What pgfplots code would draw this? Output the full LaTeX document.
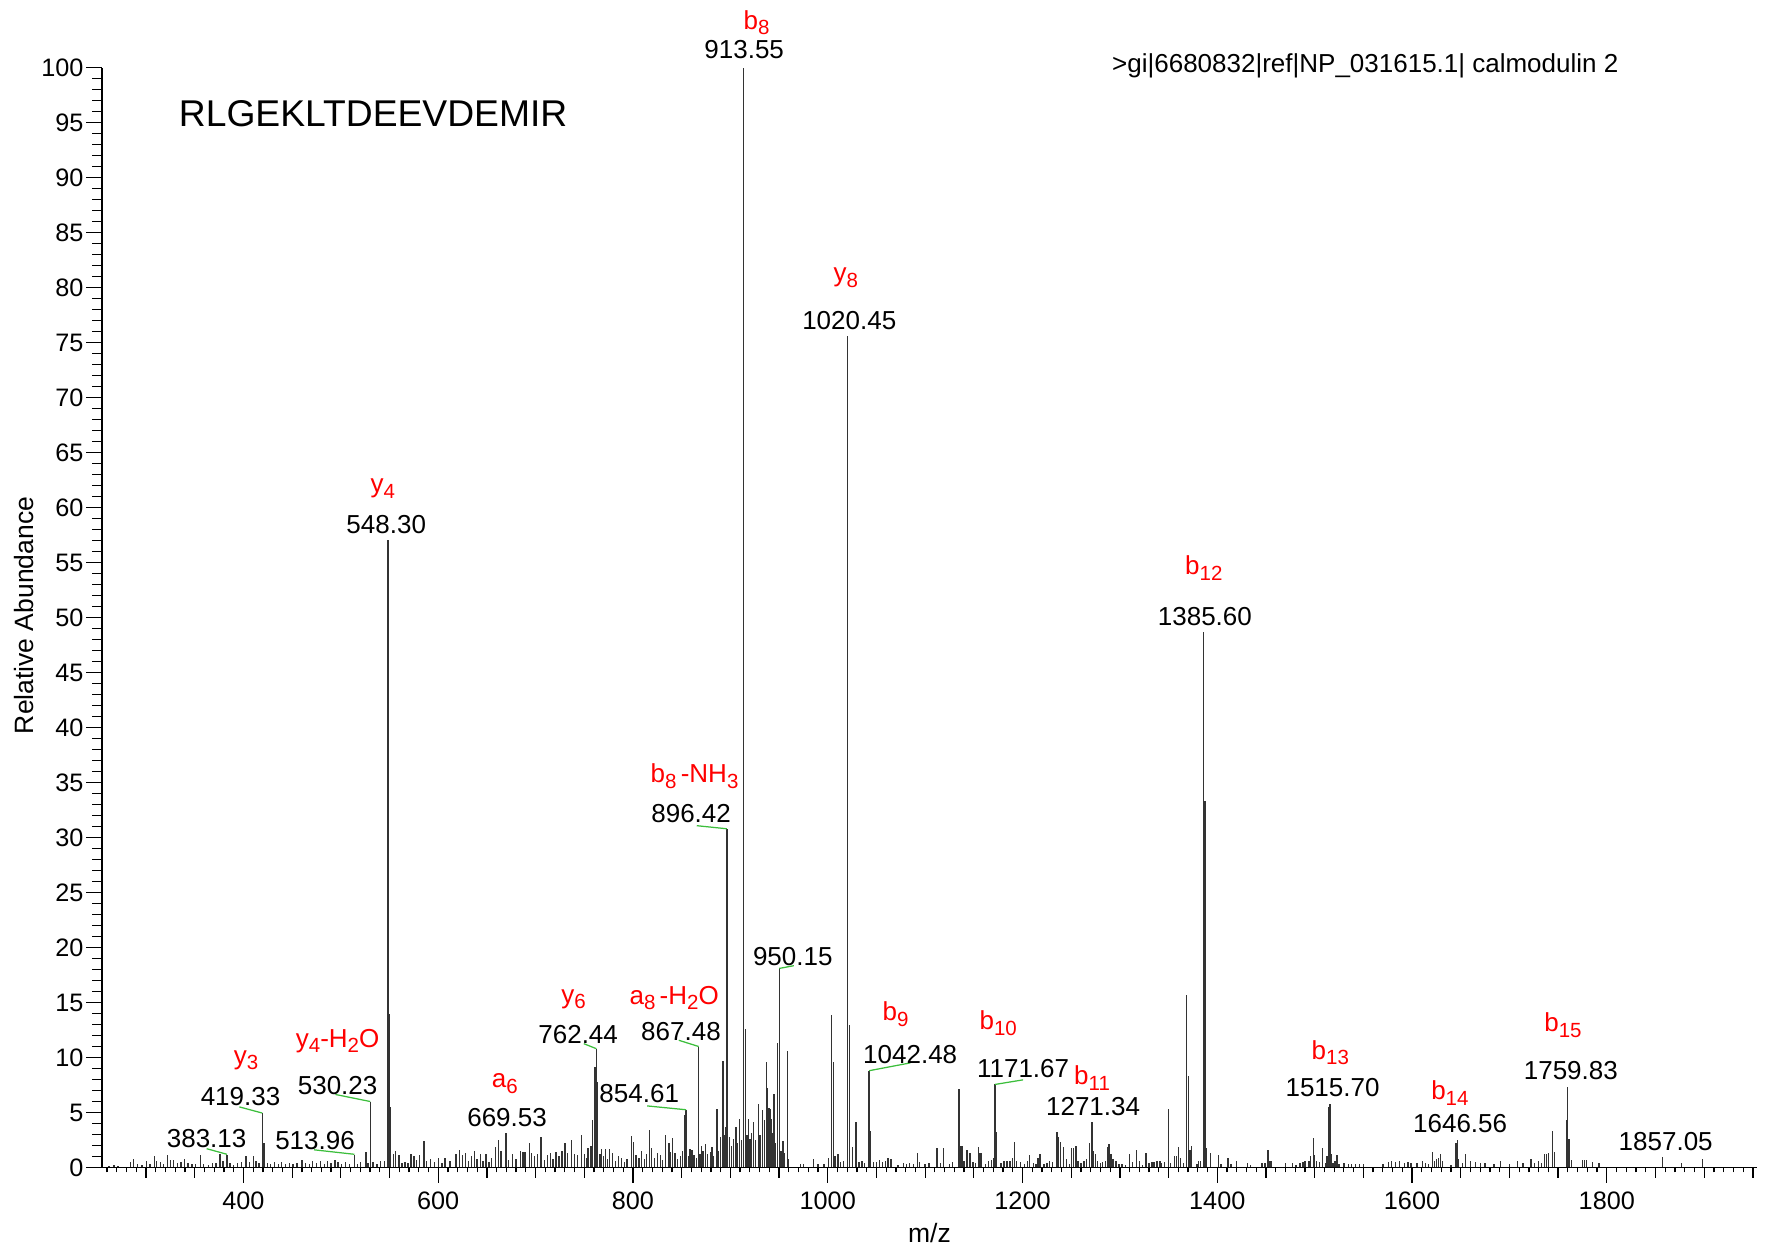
\documentclass[border=0pt]{standalone}
\usepackage{pgfplots}
\pgfplotsset{compat=1.18}
\usepackage{pgfplotstable}
\usepackage{fontspec}
\setmainfont{Liberation Sans}
\definecolor{peak}{gray}{0.2}
\definecolor{lead}{RGB}{60,190,60}
\definecolor{ion}{RGB}{255,0,0}
\newcommand{\tf}{\fontsize{10.1}{12}\selectfont}
\newcommand{\af}{\fontsize{10.4}{12.5}\selectfont}
\newcommand{\lf}{\fontsize{10.6}{12.7}\selectfont}
\newcommand{\sub}[1]{\raisebox{-0.42ex}{\fontsize{8.2}{9}\selectfont #1}}

\pgfplotstableread{
mz h
262 0.15
267 0.2
271 0.1
284 0.5
286.9 0.8
291 0.3
296 0.2
300.6 0.6
304 0.35
308.5 1.0
311 0.55
315 0.5
318 0.3
322.2 1.1
325 0.7
328 0.65
332 0.4
336 0.5
339.3 0.75
343 0.4
347 0.3
351 0.35
356 1.1
359 0.3
364 0.2
368 0.4
372 0.4
376 1.2
379 0.55
383.13 1.18
386 0.4
390 0.25
394 0.45
398 0.5
402.6 1.0
406 0.5
410.1 1.0
413 0.55
416 0.4
419.33 4.95
421 2.25
425 0.45
428 0.35
432 0.5
436 0.3
439 0.5
443 0.35
447 0.45
451 0.3
455 0.45
460.3 0.7
464 0.4
468 0.3
471 0.55
475 0.4
479 0.6
483 0.35
486 0.55
490 0.4
494 0.7
497 0.5
501 0.35
505 0.5
509 0.3
513.96 1.18
517 0.35
520 0.5
525.8 1.4
528 0.4
530.23 6.0
533 0.5
537 0.35
541 0.6
545 0.55
548.3 57.1
549.3 14.0
550.5 5.5
553.8 1.2
556.2 1.5
559.6 1.1
563 0.4
566 0.5
569 0.4
572 1.2
575 1.0
578 0.65
581 1.1
585.3 2.4
588 0.6
592 0.8
596 0.5
600 0.9
604 0.4
607 0.9
612 0.6
618.4 1.25
621.8 1.6
625 1.1
628 1.3
631 0.6
634 1.0
637.3 1.5
640 0.8
643.5 1.2
646 0.6
649 1.2
652 0.5
655 0.9
658.6 1.9
662 2.5
664.5 1.5
669.53 3.15
672 0.65
676.5 1.2
680 0.8
684.4 1.5
687 1.45
689 1.45
693.6 2.2
696 1.3
699 1.0
702 1.2
705.5 2.8
709 0.7
712 1.1
715 1.3
718 0.8
721 1.4
724 1.0
727 1.5
730 2.2
733 1.3
736.9 2.5
740 1.2
743 1.1
747.2 3.0
750 1.2
752 0.9
754 1.8
757 2.0
758.5 4.3
760.9 9.1
762.44 10.8
763.7 7.8
766 1.2
767.5 1.7
770 1.0
772 1.7
774 0.8
776 1.7
779 1.3
782 0.6
785 1.0
788 0.9
791 0.5
794 0.8
798.6 2.85
800.3 2.3
803 1.1
806 0.9
809 1.5
812 0.8
814 1.2
817.1 3.4
819 1.8
822 0.9
825 1.3
828 1.1
830 0.7
833.1 2.95
836.8 2.2
838.5 1.4
840.9 2.7
843 1.3
846 0.8
849 1.0
851 1.5
853.6 4.8
854.61 5.25
857 1.0
858.5 1.7
860.5 1.6
862.5 1.1
865 0.9
867.48 11.0
869 1.2
870.4 2.0
872 1.5
874.5 2.1
876.5 1.2
879.4 1.4
881 1.9
883 1.0
886.1 5.3
888 1.5
890 2.8
892.3 9.7
894 3.0
895 3.7
896.42 30.8
899 2.8
901 2.0
903 2.6
905.6 3.7
907.5 2.2
909.7 4.4
911.5 2.5
913.55 100
915.3 12.6
917 3.0
918.7 4.4
920 2.6
921.5 3.1
923.9 4.1
926 2.5
928.6 5.8
930.5 3.0
933 5.2
935.1 4.3
936.8 9.55
938.2 7.25
939.5 5.4
941.2 5.3
942.5 4.4
943.6 3.1
944.9 6.7
946.5 2.2
948.7 11.3
950.15 18.1
952 1.5
954 2.4
955.5 1.3
958.6 10.6
960 0.8
972 0.3
975 0.35
985.6 0.8
990 0.3
996 0.35
1001 0.9
1003.7 13.9
1005.8 9.6
1007.5 1.0
1010.6 1.2
1013 0.5
1016 0.6
1020.45 75.6
1022.3 13.0
1025.4 1.85
1029.1 4.1
1032 0.5
1035 0.6
1038 0.4
1042.48 8.8
1044.2 3.3
1047 0.5
1050 0.5
1053 0.7
1056 0.5
1059 0.6
1062 0.9
1065 0.8
1072 0.2
1078 0.4
1081 0.35
1084 0.4
1088 0.3
1092 1.3
1094 0.5
1100 0.3
1104 0.4
1112 1.75
1116 0.4
1119 1.75
1125 0.3
1128 0.5
1134.7 7.1
1136.3 2.0
1137.7 2.0
1140 0.6
1143 1.6
1146 1.3
1149 0.5
1152 0.4
1154.5 1.9
1156.5 1.3
1158 1.3
1162 0.3
1165 0.6
1168 0.7
1170.2 0.9
1171.67 7.55
1173.3 3.2
1178 0.4
1181 0.6
1184 0.6
1187 0.6
1189.5 0.9
1191.5 2.3
1194 0.6
1198 0.5
1202 0.3
1205 0.6
1207 1.1
1211 0.4
1214 0.3
1216 0.9
1218 1.25
1222 0.3
1225 0.4
1228 0.6
1231 0.5
1235.3 3.2
1237 2.8
1239 2.3
1242 1.9
1245 0.8
1248 0.3
1250.5 1.8
1252.5 1.8
1255 2.0
1257 0.6
1260 0.4
1263 0.6
1266 0.8
1269 2.2
1271.34 4.1
1273 1.5
1275 1.2
1277 0.6
1280 0.4
1282 0.5
1285 0.6
1287.5 1.85
1289 2.15
1291 1.2
1293 0.8
1296 0.6
1299 0.3
1302 0.3
1306 0.2
1310 1.2
1313 0.5
1317 1.6
1320 0.6
1323 0.2
1327 1.3
1330 0.4
1333 0.5
1335 0.5
1338 0.6
1341 0.6
1343 0.4
1346 0.5
1350 5.3
1352 0.4
1356 1.0
1358 1.0
1360 1.9
1362 0.9
1365 0.4
1368.6 15.7
1370.4 8.3
1372 1.6
1373.5 2.0
1379 0.3
1381 0.6
1383 0.6
1385.6 48.7
1387.3 33.3
1389 1.8
1393 1.3
1401 1.1
1404 0.3
1411 0.87
1414 0.3
1420 0.6
1431 0.4
1434 0.2
1446 0.4
1449 0.45
1452 1.6
1454 0.6
1456 0.6
1470 0.4
1477 0.4
1481 0.2
1485 0.45
1488 0.5
1490 0.6
1494 0.6
1496 1.0
1498.5 2.7
1500 1.1
1502 0.6
1505 0.5
1508 1.8
1511 0.4
1512.5 1.0
1514.3 5.5
1515.7 5.8
1517.3 1.2
1519 0.4
1521 0.6
1523 1.1
1525 0.3
1530 0.4
1535 0.3
1538 0.3
1542 0.3
1546 0.3
1550 0.35
1570 0.3
1576 0.5
1579 0.6
1583 0.5
1587 0.6
1592 0.4
1596 0.5
1599 0.4
1605 0.4
1611 0.6
1614 0.4
1617 0.3
1621 1.4
1623 0.6
1625 0.8
1627 0.9
1629 1.25
1631 0.6
1640 0.2
1645 2.2
1646.56 2.5
1648 0.8
1652 0.4
1655 1.2
1660 0.6
1665 0.5
1670 0.4
1675 0.4
1684 0.3
1691 0.6
1700 0.3
1708 0.6
1714 0.4
1722 0.8
1726 0.4
1730 0.6
1733 0.4
1736 1.2
1738 1.2
1740 1.3
1744 3.3
1746 1.4
1758.3 4.3
1759.83 7.3
1761.3 2.55
1764 0.65
1775 0.65
1777 0.65
1779 0.65
1785 0.5
1792 0.4
1857.05 0.95
1877 0.45
1898 0.8
}\peaks

\pgfplotsset{base/.style={
  width=661.8pt, height=439.9pt, scale only axis,
  xmin=255, xmax=1954, ymin=0, ymax=100,
  axis x line=bottom, axis y line=left,
  axis line style={-, line width=0.6pt, black},
  every outer x axis line/.append style={-},
  every outer y axis line/.append style={-},
  tick align=outside, clip=false,
  tick style={line width=0.5pt, black},
  /pgf/number format/assume math mode=true,
  /pgf/number format/1000 sep={},
}}

\begin{document}
\begin{tikzpicture}
\useasboundingbox (-40.9pt,-32.6pt) rectangle (667.5pt,467pt);

% medium x ticks (every 50)
\begin{axis}[base,
  xtick={300,350,450,500,550,650,700,750,850,900,950,1050,1100,1150,1250,1300,1350,1450,1500,1550,1650,1700,1750,1850,1900,1950},
  xticklabels={}, major tick length=4pt, ytick=\empty]
\end{axis}

% y axis
\begin{axis}[base, xtick=\empty,
  ytick={0,5,...,100}, minor ytick={0,1,...,100},
  major tick length=6.3pt, minor tick length=4pt,
  yticklabel style={font=\tf, inner xsep=1pt}]
\end{axis}

% main axis with data
\begin{axis}[base, ytick=\empty,
  xtick={400,600,...,1800}, minor xtick={260,270,...,1950},
  major tick length=6.1pt, minor tick length=2pt,
  xticklabel style={font=\tf}]
\addplot[ycomb, no marks, color=peak, line width=0.55pt] table[x=mz,y=h] {\peaks};

% leader lines
\begin{scope}[lead, line width=0.5pt]
\draw (axis cs:362.2,1.71) -- (axis cs:383.13,1.2);
\draw (axis cs:395.8,5.51) -- (axis cs:419.33,4.95);
\draw (axis cs:472.4,1.61) -- (axis cs:513.96,1.2);
\draw (axis cs:494.4,6.64) -- (axis cs:530.23,6.0);
\draw (axis cs:749.5,11.26) -- (axis cs:762.44,10.8);
\draw (axis cs:814.5,5.6) -- (axis cs:854.61,5.25);
\draw (axis cs:847,11.57) -- (axis cs:867.48,11.0);
\draw (axis cs:865.5,31.08) -- (axis cs:896.42,30.8);
\draw (axis cs:965.2,18.35) -- (axis cs:950.15,18.1);
\draw (axis cs:1084.7,9.51) -- (axis cs:1042.48,8.8);
\draw (axis cs:1200.6,7.97) -- (axis cs:1171.67,7.55);
\end{scope}

% mass labels
\begin{scope}[every node/.style={font=\af, inner sep=0pt, text=black}]
\node at (axis cs:914.2,101.64) {913.55};
\node at (axis cs:1022.1,76.99) {1020.45};
\node at (axis cs:546.6,58.5) {548.30};
\node at (axis cs:1387.3,50.08) {1385.60};
\node at (axis cs:859.7,32.2) {896.42};
\node at (axis cs:964.1,19.17) {950.15};
\node at (axis cs:743.7,12.08) {762.44};
\node at (axis cs:849.3,12.39) {867.48};
\node at (axis cs:496.7,7.46) {530.23};
\node at (axis cs:397.0,6.43) {419.33};
\node at (axis cs:670.7,4.58) {669.53};
\node at (axis cs:806.4,6.74) {854.61};
\node at (axis cs:362.2,2.63) {383.13};
\node at (axis cs:473.5,2.43) {513.96};
\node at (axis cs:1084.7,10.23) {1042.48};
\node at (axis cs:1200.6,9.0) {1171.67};
\node at (axis cs:1272.5,5.51) {1271.34};
\node at (axis cs:1518.4,7.25) {1515.70};
\node at (axis cs:1649.4,3.97) {1646.56};
\node at (axis cs:1763.1,8.8) {1759.83};
\node at (axis cs:1860.5,2.33) {1857.05};
\end{scope}

% ion labels
\begin{scope}[every node/.style={font=\af, inner sep=0pt, text=ion}]
\node at (axis cs:927.0,104.1) {b\sub{8}};
\node at (axis cs:1018.6,80.9) {y\sub{8}};
\node at (axis cs:543.1,61.7) {y\sub{4}};
\node at (axis cs:1386.2,54.5) {b\sub{12}};
\node at (axis cs:863.2,35.6) {b\sub{8}\,-NH\sub{3}};
\node at (axis cs:739.1,15.3) {y\sub{6}};
\node at (axis cs:842.3,15.4) {a\sub{8}\,-H\sub{2}O};
\node at (axis cs:496.7,11.5) {y\sub{4}-H\sub{2}O};
\node at (axis cs:402.8,9.75) {y\sub{3}};
\node at (axis cs:668.4,7.6) {a\sub{6}};
\node at (axis cs:1069.6,13.95) {b\sub{9}};
\node at (axis cs:1175.1,13.12) {b\sub{10}};
\node at (axis cs:1271.4,8.1) {b\sub{11}};
\node at (axis cs:1516.1,10.45) {b\sub{13}};
\node at (axis cs:1638.9,6.75) {b\sub{14}};
\node at (axis cs:1755.0,12.92) {b\sub{15}};
\end{scope}

\node[anchor=west, inner sep=0pt, font=\fontsize{14.9}{17}\selectfont] at (axis cs:333.2,95.78) {RLGEKLTDEEVDEMIR};
\node[inner sep=0pt, font=\af] at (axis cs:1552.0,100.2) {>gi|6680832|ref|NP\_031615.1| calmodulin 2};
\end{axis}

\node[rotate=90, font=\lf, inner sep=0pt] at (-31.4pt,220.8pt) {Relative Abundance};
\node[font=\lf, inner sep=0pt] at (330.9pt,-26.4pt) {m/z};
\end{tikzpicture}
\end{document}
